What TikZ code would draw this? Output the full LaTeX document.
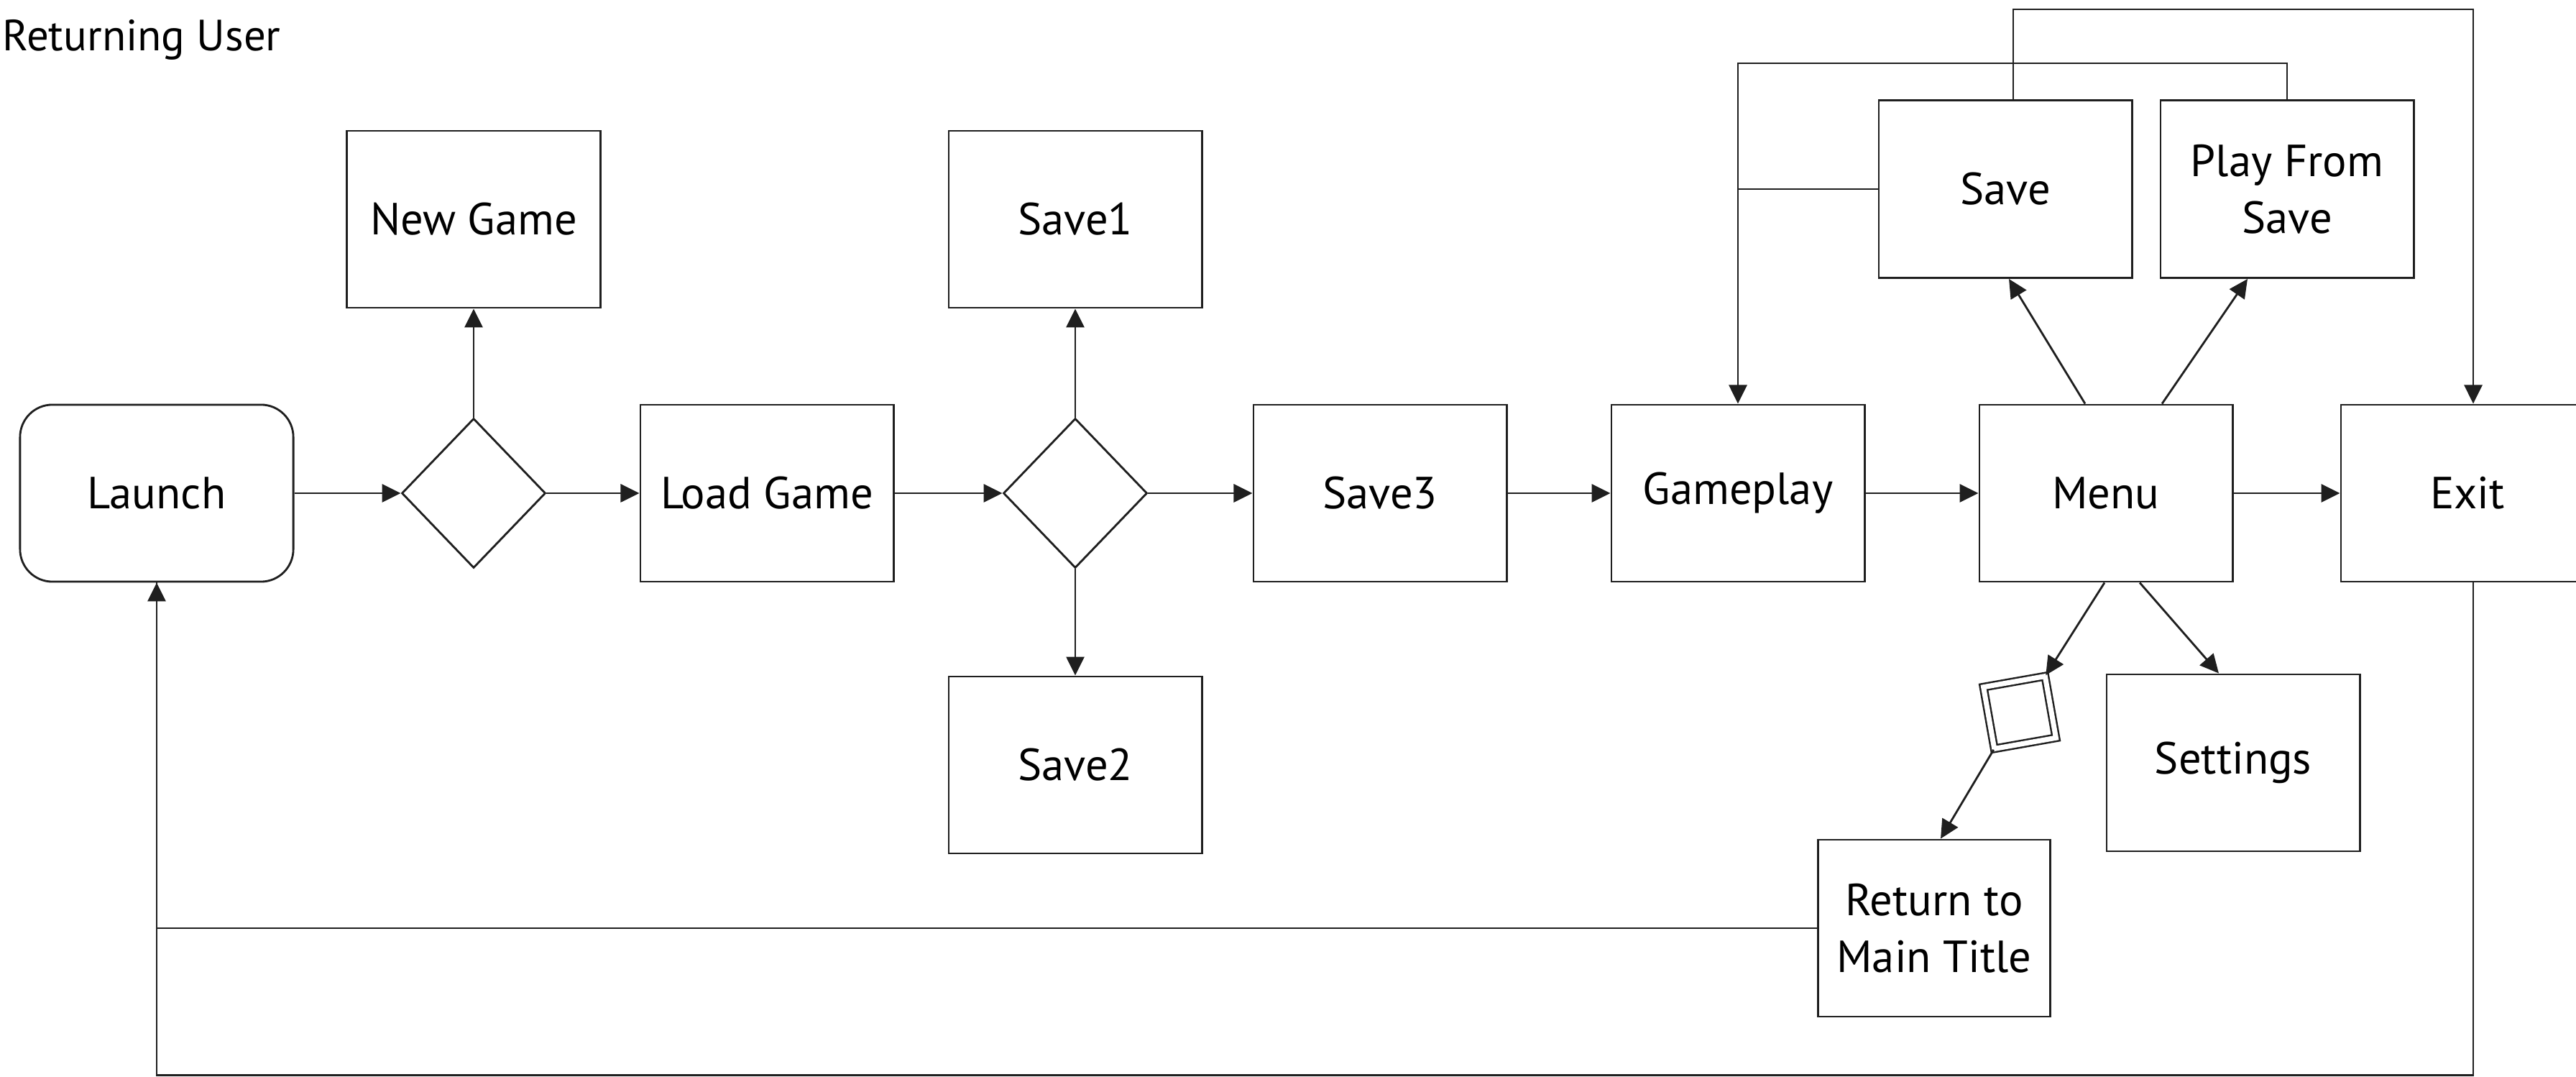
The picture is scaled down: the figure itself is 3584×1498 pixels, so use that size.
\documentclass[tikz,border=0pt]{standalone}
\usepackage{fontspec}
\setmainfont{PT Sans}
\usetikzlibrary{shapes.geometric,arrows.meta}

\begin{document}
\begin{tikzpicture}[
    x=0.01cm,
    y=-0.01cm,
    font=\fontsize{17.8}{22.6}\selectfont,
    box/.style={draw=black!88, line width=0.8pt, minimum width=3.52cm,
                minimum height=2.46cm, inner sep=0pt, align=center},
    startbox/.style={box, minimum width=3.80cm, rounded corners=0.45cm},
    decision/.style={draw=black!88, diamond, line width=0.8pt,
                     minimum width=2.00cm, minimum height=2.08cm,
                     inner sep=0pt},
    gate/.style={draw=black!88, double, double distance=0.07cm,
                 line width=0.7pt, minimum size=0.87cm, inner sep=0pt,
                 rotate=10},
    arr/.style={-{Triangle[length=0.26cm, width=0.25cm]}, draw=black!88,
                line width=0.8pt},
    link/.style={draw=black!88, line width=0.8pt}
]
\useasboundingbox (0,0) rectangle (3584,1498);

\node[anchor=base west, inner sep=0pt, font=\fontsize{17.3}{20}\selectfont]
      (title) at (3,71) {Returning User};

% Main row, left to right.
\node[startbox] (launch)   at (218,686)  {Launch};
\node[decision] (dec1)     at (659,686)  {};
\node[box]      (newgame)  at (659,305)  {New Game};
\node[box]      (loadgame) at (1067,686) {Load Game};
\node[decision] (dec2)     at (1496,686) {};
\node[box]      (save1)    at (1496,305) {Save1};
\node[box]      (save2)    at (1496,1064) {Save2};
\node[box]      (save3)    at (1920,686) {Save3};
\node[box]      (gameplay) at (2418,686) {Gameplay};
\node[box]      (menu)     at (2930,686) {Menu};
\node[box]      (exitnode) at (3433,686) {Exit};

% Menu branches.
\node[box, minimum height=2.47cm] (save)     at (2790,263) {Save};
\node[box, minimum height=2.47cm] (playsave) at (3182,263) {Play From\\Save};
\node[box] (settings) at (3107,1061) {Settings};
\node[gate] (gate) at (2810,991) {};
\node[box, minimum width=3.23cm] (retmain) at (2691,1291)
      {Return to\\Main Title};

\draw[arr] (launch.east) -- (dec1.west);
\draw[arr] (dec1.north) -- (newgame.south);
\draw[arr] (dec1.east) -- (loadgame.west);
\draw[arr] (loadgame.east) -- (dec2.west);
\draw[arr] (dec2.north) -- (save1.south);
\draw[arr] (dec2.south) -- (save2.north);
\draw[arr] (dec2.east) -- (save3.west);
\draw[arr] (save3.east) -- (gameplay.west);
\draw[arr] (gameplay.east) -- (menu.west);
\draw[arr] (menu.east) -- (exitnode.west);

\draw[arr] ([xshift=-0.29cm]menu.north) -- ([xshift=0.05cm]save.south);
\draw[arr] ([xshift=0.78cm]menu.north) -- ([xshift=-0.55cm]playsave.south);
\draw[arr] ([xshift=-0.02cm]menu.south) -- (gate.north east);
\draw[arr] ([xshift=0.47cm]menu.south) -- ([xshift=-0.20cm]settings.north);
\draw[arr] (gate.south west) -- ([xshift=0.09cm]retmain.north);

% Loops back over the top and along the bottom.
\draw[arr] ([xshift=0.11cm]save.north) -- ++(0,-125)
           -| ([xshift=0.08cm]exitnode.north);
\draw[arr] (playsave.north) -- ++(0,-50) -| (gameplay.north);
\draw[link] (save.west) -- (save.west -| gameplay.north);
\draw[arr] (retmain.west) -| (launch.south);
\draw[link] ([xshift=0.08cm]exitnode.south) -- ++(0,685) -| (launch.south);
\end{tikzpicture}
\end{document}
